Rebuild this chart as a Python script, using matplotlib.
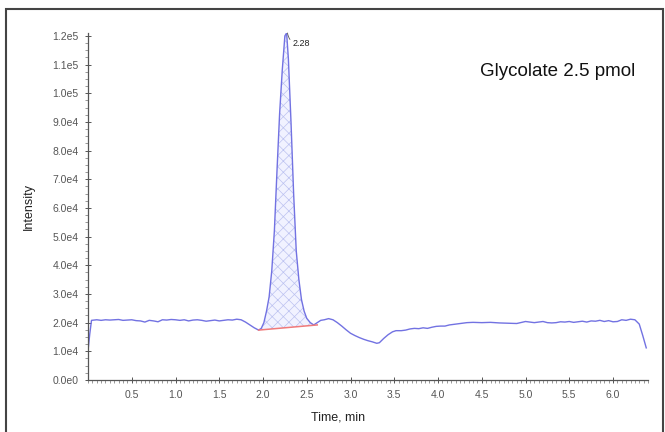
import matplotlib
matplotlib.use("Agg")
import matplotlib.pyplot as plt
from matplotlib.patches import Rectangle
from matplotlib.ticker import MultipleLocator, FixedLocator

# ---- data ----
time_min = [
    0.00, 0.02, 0.04, 0.10, 0.15, 0.20, 0.25, 0.30, 0.35, 0.40, 0.45, 0.50,
    0.55, 0.60, 0.65, 0.70, 0.75, 0.80, 0.85, 0.90, 0.95, 1.00, 1.05, 1.10,
    1.15, 1.20, 1.25, 1.30, 1.35, 1.40, 1.45, 1.50, 1.55, 1.60, 1.65, 1.70,
    1.75, 1.80, 1.85, 1.90, 1.95,
    1.98, 2.01, 2.04, 2.07, 2.10, 2.13, 2.16, 2.19, 2.22, 2.25, 2.27, 2.29,
    2.32, 2.35, 2.38, 2.41, 2.44, 2.47, 2.50, 2.54, 2.58, 2.62,
    2.66, 2.70, 2.75, 2.80, 2.85, 2.90, 2.95, 3.00, 3.05, 3.10, 3.15, 3.20,
    3.25, 3.30, 3.33, 3.38, 3.43, 3.48, 3.52, 3.58, 3.63, 3.68, 3.73, 3.78,
    3.83, 3.88, 3.93, 3.98, 4.03, 4.08, 4.13, 4.18, 4.23, 4.28, 4.33, 4.40,
    4.50, 4.60, 4.70, 4.80, 4.90, 5.00, 5.05, 5.10, 5.15, 5.20, 5.25, 5.30,
    5.35, 5.40, 5.45, 5.50, 5.55, 5.60, 5.65, 5.70, 5.75, 5.80, 5.85, 5.90,
    5.95, 6.00, 6.05, 6.10, 6.15, 6.20, 6.25, 6.30, 6.34, 6.38,
]
intensity_e4 = [
    1.02, 1.60, 2.08, 2.10, 2.08, 2.10, 2.09, 2.10, 2.11, 2.08, 2.09, 2.10,
    2.07, 2.06, 2.02, 2.08, 2.06, 2.03, 2.10, 2.09, 2.11, 2.10, 2.08, 2.10,
    2.06, 2.09, 2.10, 2.08, 2.05, 2.07, 2.09, 2.06, 2.08, 2.10, 2.09, 2.12,
    2.10, 2.02, 1.92, 1.82, 1.74,
    1.80, 2.00, 2.40, 2.90, 3.80, 5.20, 7.30, 9.30, 10.80, 12.00, 12.10, 11.20,
    9.00, 6.50, 4.50, 3.50, 2.80, 2.40, 2.15, 2.00, 1.92, 2.00,
    2.08, 2.10, 2.14, 2.10, 2.00, 1.88, 1.75, 1.63, 1.55, 1.48, 1.42, 1.37,
    1.33, 1.28, 1.30, 1.45, 1.58, 1.68, 1.72, 1.72, 1.74, 1.78, 1.80, 1.79,
    1.82, 1.80, 1.84, 1.87, 1.88, 1.88, 1.92, 1.94, 1.96, 1.98, 2.00, 2.01,
    2.00, 2.01, 1.99, 1.98, 1.97, 2.04, 2.02, 2.00, 2.02, 2.04, 2.00, 1.99,
    2.00, 2.03, 2.02, 2.04, 2.01, 2.03, 2.05, 2.02, 2.06, 2.05, 2.08, 2.04,
    2.07, 2.03, 2.04, 2.10, 2.08, 2.12, 2.10, 1.95, 1.55, 1.12,
]
peak_start, peak_end = 1.95, 2.62
baseline_e4 = [1.74, 1.92]
peak_label = "2.28"
peak_apex = (2.26, 12.1)
y_ticks_e4 = [0, 1, 2, 3, 4, 5, 6, 7, 8, 9, 10, 11, 12]
y_tick_labels = ["0.0e0", "1.0e4", "2.0e4", "3.0e4", "4.0e4", "5.0e4", "6.0e4",
                 "7.0e4", "8.0e4", "9.0e4", "1.0e5", "1.1e5", "1.2e5"]
x_ticks = [0.5, 1.0, 1.5, 2.0, 2.5, 3.0, 3.5, 4.0, 4.5, 5.0, 5.5, 6.0]
x_tick_labels = ["0.5", "1.0", "1.5", "2.0", "2.5", "3.0", "3.5", "4.0",
                 "4.5", "5.0", "5.5", "6.0"]
title_text = "Glycolate 2.5 pmol"

# ---- figure ----
NARROW = ["Liberation Sans Narrow", "Liberation Sans", "DejaVu Sans"]
plt.rcParams["hatch.linewidth"] = 0.5
fig = plt.figure(figsize=(6.65, 4.32), dpi=100)
ax = fig.add_axes([88 / 665, 1 - 380 / 432, (648 - 88) / 665, (380 - 33) / 432])

t = [v for v in time_min]
y = [v * 1e4 for v in intensity_e4]
line_color = "#7272e2"

# peak fill between trace and baseline
pt = [a for a in t if peak_start <= a <= peak_end]
py = [b for a, b in zip(t, y) if peak_start <= a <= peak_end]
by = [baseline_e4[0] * 1e4 + (baseline_e4[1] - baseline_e4[0]) * 1e4 *
      (a - peak_start) / (peak_end - peak_start) for a in pt]
ax.fill_between(pt, by, py, facecolor="#f1f2ff", edgecolor="#bcc2f0",
                hatch="xxx", linewidth=0)

ax.plot(t, y, color=line_color, lw=1.0)
ax.plot([peak_start, peak_end], [baseline_e4[0] * 1e4, baseline_e4[1] * 1e4],
        color="#f07a7a", lw=1.1)

# apex label with small leader
ax.annotate(peak_label, xy=(peak_apex[0] + 0.02, peak_apex[1] * 1e4),
            xytext=(2.34, 11.75e4), fontsize=6.5, family=NARROW, color="#222222",
            va="center", ha="left",
            arrowprops=dict(arrowstyle="-", color="#555555", lw=0.6,
                            connectionstyle="arc3,rad=-0.5",
                            shrinkA=0, shrinkB=0))

ax.set_xlim(0, 6.4)
ax.set_ylim(0, 1.21e5)
for s in ["top", "right"]:
    ax.spines[s].set_visible(False)
for s in ["left", "bottom"]:
    ax.spines[s].set_color("#555555")
    ax.spines[s].set_linewidth(0.9)

ax.yaxis.set_major_locator(FixedLocator([v * 1e4 for v in y_ticks_e4]))
ax.set_yticklabels(y_tick_labels)
ax.yaxis.set_minor_locator(MultipleLocator(2500))
ax.xaxis.set_major_locator(FixedLocator(x_ticks))
ax.set_xticklabels(x_tick_labels)
ax.xaxis.set_minor_locator(MultipleLocator(0.05))
ax.tick_params(axis="both", which="major", direction="inout", length=4,
               width=0.7, color="#555555", labelsize=7.5, labelcolor="#555555",
               pad=5)
ax.tick_params(axis="both", which="minor", direction="out", length=2,
               width=0.6, color="#888888")
for lab in ax.get_xticklabels() + ax.get_yticklabels():
    lab.set_family(NARROW)

fig.text(338 / 665, 1 - 417 / 432, "Time, min", fontsize=9, family=NARROW,
         color="#222222", ha="center", va="center")
ax.set_ylabel("Intensity", fontsize=9, family=NARROW, color="#222222", labelpad=12)

fig.text(558 / 665, 1 - 72 / 432, title_text, fontsize=13.5, family=NARROW,
         ha="center", va="center", color="#111111")

# outer frame
fig.patches.append(Rectangle((6 / 665, -0.01), 657 / 665, 1 - 9 / 432 + 0.01,
                             transform=fig.transFigure, fill=False,
                             edgecolor="#444444", linewidth=1.5))

fig.savefig("out.png", dpi=100)
